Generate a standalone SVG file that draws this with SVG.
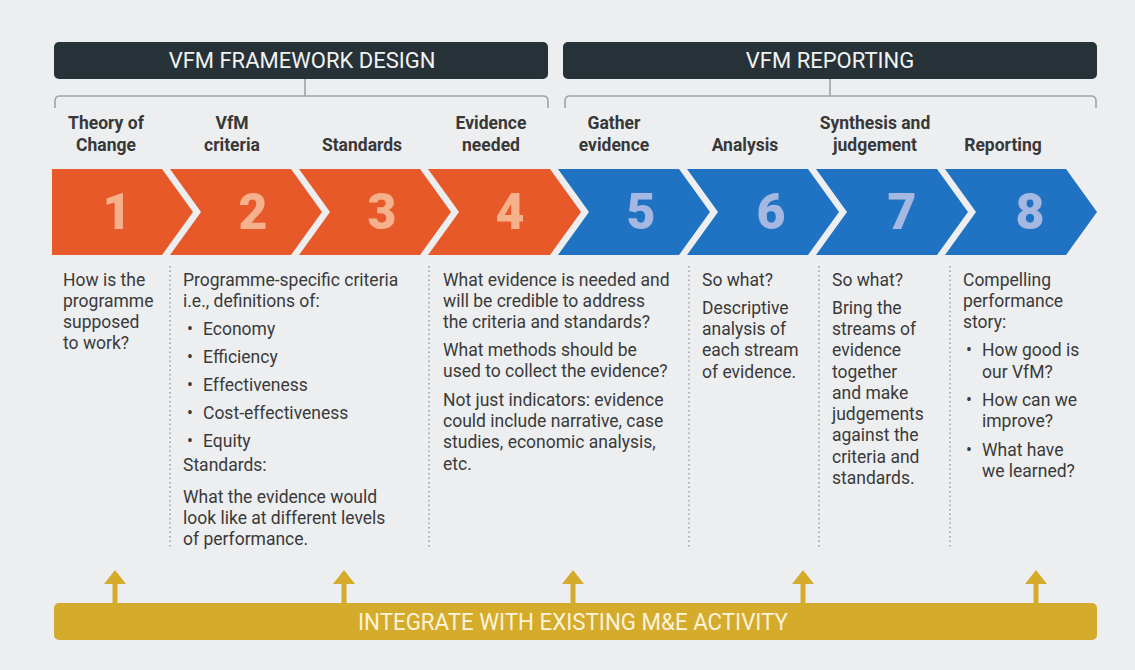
<svg xmlns="http://www.w3.org/2000/svg" width="1135" height="670" viewBox="0 0 1135 670">
<defs>
<style>
.hdr{fill:#263238}
.hdrt{font-family:Roboto,"Liberation Sans",sans-serif;font-size:22px;fill:#f2f2f2;text-anchor:middle}
.brk{fill:none;stroke:#9ea3a8;stroke-width:1.6}
.lbl{font-family:Roboto,"Liberation Sans",sans-serif;font-size:17.5px;font-weight:bold;fill:#383838;text-anchor:middle}
.or{fill:#e8592a}
.bl{fill:#1f73c2}
.num{font-family:Roboto,"Liberation Sans",sans-serif;font-size:50px;font-weight:900;text-anchor:middle}
.nor{fill:#f5b08c}
.nbl{fill:#a4b8e2}
.body{font-family:Roboto,"Liberation Sans",sans-serif;font-size:17.5px;fill:#3a3a3a}
.dot{stroke:#9a9ea2;stroke-width:1.5;stroke-dasharray:1.5 3}
.gold{fill:#d5ab2b}
.band{font-family:Roboto,"Liberation Sans",sans-serif;font-size:23px;fill:#fbf3dc;text-anchor:middle}
</style>
</defs>
<rect width="1135" height="670" fill="#eceef0"/>

<g id="header-design">
<rect class="hdr" x="54" y="42" width="494" height="37" rx="5"/>
<text class="hdrt" x="302" y="68">VFM FRAMEWORK DESIGN</text>
</g>
<g id="header-reporting">
<rect class="hdr" x="563" y="42" width="534" height="37" rx="5"/>
<text class="hdrt" x="830" y="68">VFM REPORTING</text>
</g>

<g id="connectors">
<path class="brk" d="M305,79 V96 M55,108 V101 Q55,96 60,96 H543 Q548,96 548,101 V108"/>
<path class="brk" d="M830,79 V96 M565,108 V101 Q565,96 570,96 H1091 Q1096,96 1096,101 V108"/>
<line class="dot" x1="170" y1="266" x2="170" y2="548"/>
<line class="dot" x1="429" y1="266" x2="429" y2="548"/>
<line class="dot" x1="689" y1="266" x2="689" y2="548"/>
<line class="dot" x1="819" y1="266" x2="819" y2="548"/>
<line class="dot" x1="950" y1="266" x2="950" y2="548"/>
<g class="gold">
<path d="M112.5,584 h5 v20 h-5 z M104,584 L115,570 L126,584 z"/>
<path d="M341.5,584 h5 v20 h-5 z M333,584 L344,570 L355,584 z"/>
<path d="M570.5,584 h5 v20 h-5 z M562,584 L573,570 L584,584 z"/>
<path d="M800.5,584 h5 v20 h-5 z M792,584 L803,570 L814,584 z"/>
<path d="M1033.5,584 h5 v20 h-5 z M1025,584 L1036,570 L1047,584 z"/>
</g>
</g>

<g id="step1">
<text class="lbl" x="106" y="129">Theory of</text>
<text class="lbl" x="106" y="151">Change</text>
<path class="or" d="M52,169 H162 L193,212 L162,255 H52 Z"/>
<text class="num nor" x="117" y="229">1</text>
<text class="body" x="63" y="286">How is the</text>
<text class="body" x="63" y="307">programme</text>
<text class="body" x="63" y="328">supposed</text>
<text class="body" x="63" y="349">to work?</text>
</g>

<g id="step2">
<text class="lbl" x="232" y="129">VfM</text>
<text class="lbl" x="232" y="151">criteria</text>
<path class="or" d="M170,169 H291 L322,212 L291,255 H170 L201,212 Z"/>
<text class="num nor" x="253" y="229">2</text>
<text class="body" x="183" y="286">Programme-specific criteria</text>
<text class="body" x="183" y="307">i.e., definitions of:</text>
<text class="body" x="187" y="335">•</text><text class="body" x="203" y="335">Economy</text>
<text class="body" x="187" y="363">•</text><text class="body" x="203" y="363">Efficiency</text>
<text class="body" x="187" y="391">•</text><text class="body" x="203" y="391">Effectiveness</text>
<text class="body" x="187" y="419">•</text><text class="body" x="203" y="419">Cost-effectiveness</text>
<text class="body" x="187" y="447">•</text><text class="body" x="203" y="447">Equity</text>
<text class="body" x="183" y="471">Standards:</text>
<text class="body" x="183" y="503">What the evidence would</text>
<text class="body" x="183" y="524">look like at different levels</text>
<text class="body" x="183" y="545">of performance.</text>
</g>

<g id="step3">
<text class="lbl" x="362" y="151">Standards</text>
<path class="or" d="M299,169 H420 L451,212 L420,255 H299 L330,212 Z"/>
<text class="num nor" x="382" y="229">3</text>
</g>

<g id="step4">
<text class="lbl" x="491" y="129">Evidence</text>
<text class="lbl" x="491" y="151">needed</text>
<path class="or" d="M428,169 H550 L581,212 L550,255 H428 L459,212 Z"/>
<text class="num nor" x="510" y="229">4</text>
<text class="body" x="443" y="286">What evidence is needed and</text>
<text class="body" x="443" y="307">will be credible to address</text>
<text class="body" x="443" y="328">the criteria and standards?</text>
<text class="body" x="443" y="356">What methods should be</text>
<text class="body" x="443" y="377">used to collect the evidence?</text>
<text class="body" x="443" y="406">Not just indicators: evidence</text>
<text class="body" x="443" y="427">could include narrative, case</text>
<text class="body" x="443" y="448">studies, economic analysis,</text>
<text class="body" x="443" y="470">etc.</text>
</g>

<g id="step5">
<text class="lbl" x="614" y="129">Gather</text>
<text class="lbl" x="614" y="151">evidence</text>
<path class="bl" d="M558,169 H679 L710,212 L679,255 H558 L589,212 Z"/>
<text class="num nbl" x="641" y="229">5</text>
</g>

<g id="step6">
<text class="lbl" x="745" y="151">Analysis</text>
<path class="bl" d="M687,169 H808 L839,212 L808,255 H687 L718,212 Z"/>
<text class="num nbl" x="771" y="229">6</text>
<text class="body" x="702" y="286">So what?</text>
<text class="body" x="702" y="314">Descriptive</text>
<text class="body" x="702" y="335">analysis of</text>
<text class="body" x="702" y="356">each stream</text>
<text class="body" x="702" y="378">of evidence.</text>
</g>

<g id="step7">
<text class="lbl" x="875" y="129">Synthesis and</text>
<text class="lbl" x="875" y="151">judgement</text>
<path class="bl" d="M816,169 H937 L968,212 L937,255 H816 L847,212 Z"/>
<text class="num nbl" x="902" y="229">7</text>
<text class="body" x="832" y="286">So what?</text>
<text class="body" x="832" y="314">Bring the</text>
<text class="body" x="832" y="335">streams of</text>
<text class="body" x="832" y="356">evidence</text>
<text class="body" x="832" y="378">together</text>
<text class="body" x="832" y="399">and make</text>
<text class="body" x="832" y="420">judgements</text>
<text class="body" x="832" y="441">against the</text>
<text class="body" x="832" y="463">criteria and</text>
<text class="body" x="832" y="484">standards.</text>
</g>

<g id="step8">
<text class="lbl" x="1003" y="151">Reporting</text>
<path class="bl" d="M945,169 H1066 L1097,212 L1066,255 H945 L976,212 Z"/>
<text class="num nbl" x="1030" y="229">8</text>
<text class="body" x="963" y="286">Compelling</text>
<text class="body" x="963" y="307">performance</text>
<text class="body" x="963" y="328">story:</text>
<text class="body" x="966" y="356">•</text><text class="body" x="982" y="356">How good is</text>
<text class="body" x="982" y="378">our VfM?</text>
<text class="body" x="966" y="406">•</text><text class="body" x="982" y="406">How can we</text>
<text class="body" x="982" y="427">improve?</text>
<text class="body" x="966" y="456">•</text><text class="body" x="982" y="456">What have</text>
<text class="body" x="982" y="477">we learned?</text>
</g>

<g id="integrate-bar">
<rect class="gold" x="54" y="603" width="1043" height="37" rx="5"/>
<text class="band" x="573" y="630" textLength="430" lengthAdjust="spacingAndGlyphs">INTEGRATE WITH EXISTING M&amp;E ACTIVITY</text>
</g>
</svg>
